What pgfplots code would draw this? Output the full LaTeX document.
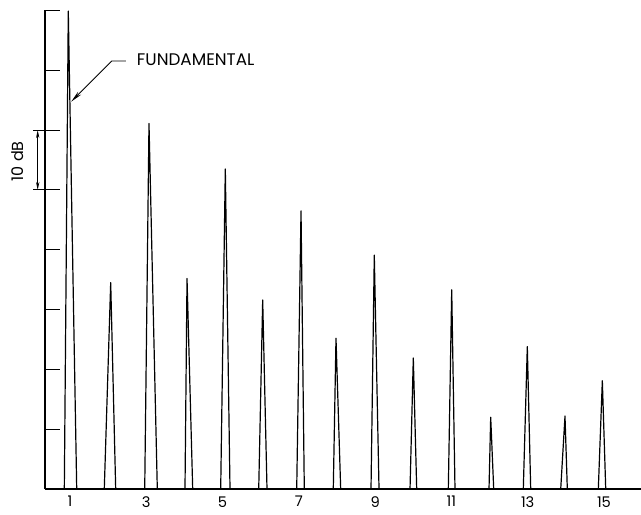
\documentclass[border=0pt]{standalone}
\usepackage{fontspec}
\setmainfont{Poppins}
\usepackage{pgfplots}
\pgfplotsset{compat=1.18}
\usetikzlibrary{arrows.meta}
\begin{document}
\begin{tikzpicture}
\useasboundingbox (-33.75pt,-18.75pt) rectangle (447pt,366.75pt);
\begin{axis}[
  scale only axis,
  width=447pt, height=358.875pt,
  xmin=0.3445, xmax=15.971,
  ymin=-80, ymax=0,
  axis x line*=bottom, axis y line*=left,
  axis line style={line width=0.9pt, black},
  xtick={1,3,...,15},
  x tick style={draw=none},
  xticklabel style={yshift=-2pt},
  ytick={-80,-70,...,0},
  yticklabels={},
  y tick style={line width=0.8pt, black},
  tick align=inside,
  major tick length=11.25pt,
  /pgf/number format/assume math mode=true,
  tick label style={font=\fontsize{11}{12}\selectfont},
  clip=false,
]
\addplot[black, line width=0.9pt, line join=round] coordinates {
 (0.6,-80) (0.851,-80) (0.955,-0.1) (1.176,-80)
 (1.899,-80) (2.067,-45.5) (2.198,-80)
 (2.959,-80) (3.071,-18.9) (3.289,-80)
 (4.015,-80) (4.068,-44.8) (4.217,-80)
 (4.951,-80) (5.072,-26.5) (5.195,-80)
 (5.948,-80) (6.052,-48.4) (6.165,-80)
 (6.944,-80) (7.057,-33.5) (7.143,-80)
 (7.903,-80) (7.974,-54.8) (8.097,-80)
 (8.892,-80) (8.978,-40.9) (9.102,-80)
 (9.915,-80) (10.001,-58.1) (10.090,-80)
 (10.919,-80) (11.008,-46.7) (11.094,-80)
 (11.986,-80) (12.030,-68.0) (12.109,-80)
 (12.885,-80) (12.990,-56.2) (13.079,-80)
 (13.866,-80) (13.978,-67.8) (14.039,-80)
 (14.852,-80) (14.957,-61.9) (15.046,-80)
};
% annotation: FUNDAMENTAL
\draw[line width=0.7pt, -{Stealth[length=9pt,width=3.2pt]}]
  (axis cs:2.468,-8.44) -- (axis cs:2.093,-8.44) -- (axis cs:1.03,-15.25);
\node[anchor=west, inner sep=0pt, font=\fontsize{12.6}{14}\selectfont]
  at (axis cs:2.749,-8.3) {FUNDAMENTAL};
% 10 dB dimension
\draw[line width=0.7pt] (axis cs:0.038,-20) -- (axis cs:0.3445,-20);
\draw[line width=0.7pt] (axis cs:0.038,-30) -- (axis cs:0.3445,-30);
\draw[line width=0.6pt, {Stealth[length=6pt,width=2.5pt]}-{Stealth[length=6pt,width=2.5pt]}]
  (axis cs:0.153,-20) -- (axis cs:0.153,-30);
\node[rotate=90, inner sep=0pt, font=\fontsize{12}{14}\selectfont]
  at (axis cs:-0.363,-25.2) {10 dB};
\end{axis}
\end{tikzpicture}
\end{document}
